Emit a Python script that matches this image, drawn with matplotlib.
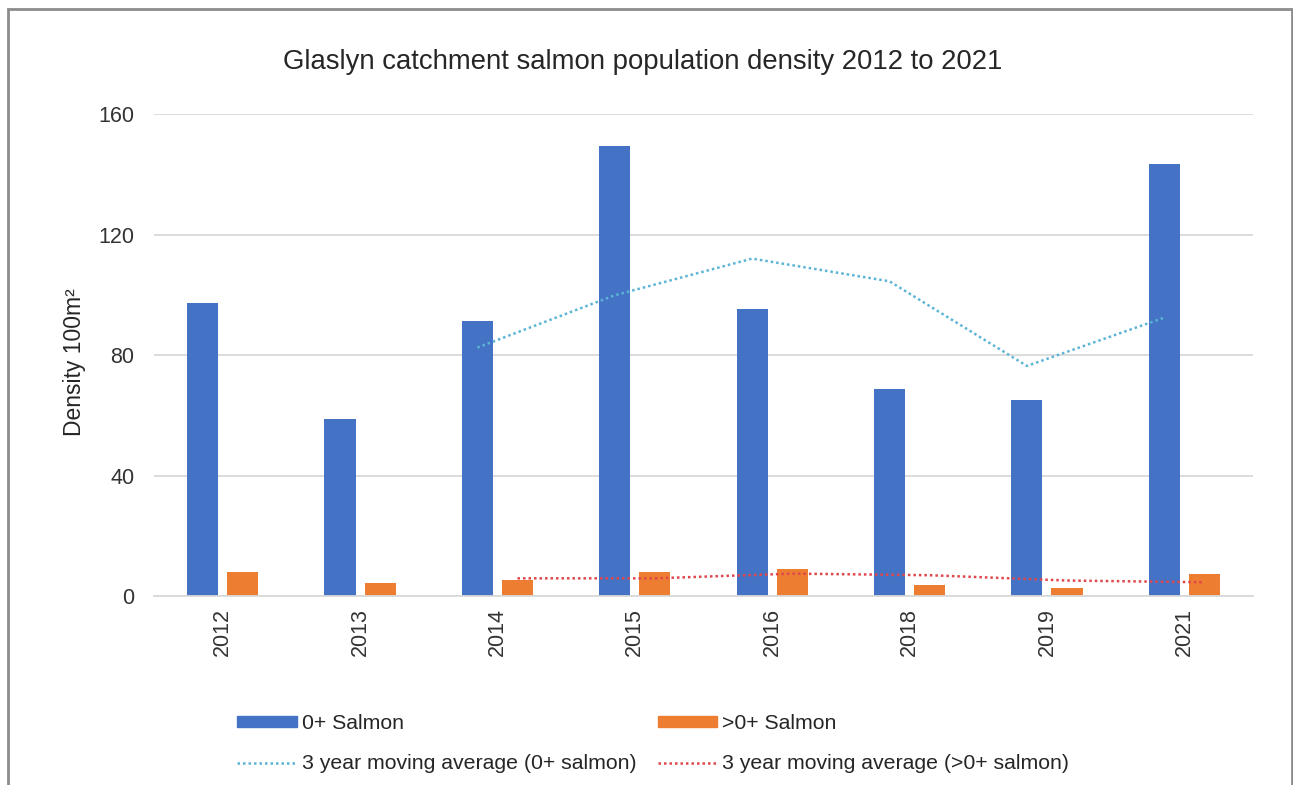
import numpy as np
import pandas as pd
import matplotlib as mpl
mpl.use('agg')
import matplotlib.pyplot as plt
from matplotlib.patches import Patch, Rectangle
from matplotlib.lines import Line2D

plt.rcParams['font.family'] = ['Liberation Sans', 'DejaVu Sans']

## data
years = ['2012', '2013', '2014', '2015', '2016', '2018', '2019', '2021']
salmon_0 = [97.3, 58.8, 91.3, 149.4, 95.3, 68.7, 65.1, 143.4]
salmon_gt0 = [8.0, 4.3, 5.3, 8.0, 9.0, 3.7, 2.7, 7.3]

blue = '#4472C4'
orange = '#ED7D31'
ma_blue = '#5BB4D6'
ma_red = '#E0474C'
grid_col = '#D9D9D9'
text_col = '#262626'

# 3 year moving average trendlines (as Excel draws them)
ma_0 = pd.Series(salmon_0).rolling(3).mean()
ma_gt0 = pd.Series(salmon_gt0).rolling(3).mean()

fig = plt.figure(figsize=(12.93, 7.85), dpi=100)
ax = fig.add_axes([154 / 1293, 1 - 596 / 785, 1099 / 1293, 482 / 785])

x = np.arange(len(years))
off = 0.146
w = 0.226
dots = (0, (1, 1.2))
ax.bar(x - off, salmon_0, width=w, color=blue, zorder=2)
ax.bar(x + off, salmon_gt0, width=w, color=orange, zorder=2)
ax.plot(x - off, ma_0, color=ma_blue, lw=1.8, linestyle=dots, zorder=3)
ax.plot(x + off, ma_gt0, color=ma_red, lw=1.8, linestyle=dots, zorder=3)

ax.set_xlim(-0.5, len(years) - 0.5)
ax.set_ylim(0, 160)
ax.set_yticks([0, 40, 80, 120, 160])
ax.set_xticks(x)
ax.set_xticklabels(years, rotation=90)
ax.tick_params(axis='both', length=0, labelsize=15.5, colors='#333333')
ax.tick_params(axis='x', pad=9)
ax.tick_params(axis='y', pad=14)
ax.yaxis.grid(True, color=grid_col, lw=1.3, zorder=0)
for s in ['top', 'right', 'left']:
    ax.spines[s].set_visible(False)
ax.spines['bottom'].set_color(grid_col)
ax.spines['bottom'].set_linewidth(1.3)

ax.set_ylabel('Density 100m²', fontsize=16.5, color=text_col)
ax.yaxis.set_label_coords((86 - 154) / 1099, (596 - 362) / 482)

fig.text(643 / 1293, 1 - 62 / 785, 'Glaslyn catchment salmon population density 2012 to 2021',
         ha='center', va='center', fontsize=19.8, color=text_col)

handles = [Patch(color=blue), Patch(color=orange),
           Line2D([], [], color=ma_blue, lw=1.8, linestyle=dots),
           Line2D([], [], color=ma_red, lw=1.8, linestyle=dots)]
labels = ['0+ Salmon', '>0+ Salmon',
          '3 year moving average (0+ salmon)', '3 year moving average (>0+ salmon)']
# order so that bars are on row 1, lines on row 2
order = [0, 2, 1, 3]
fig.legend([handles[i] for i in order], [labels[i] for i in order], ncol=2,
           loc='upper left', bbox_to_anchor=(237 / 1293, 1 - 714 / 785),
           frameon=False, fontsize=15.3, handlelength=2.8, handleheight=0.45,
           handletextpad=0.25, columnspacing=1.0, labelspacing=1.0,
           borderpad=0, borderaxespad=0, labelcolor=text_col)

# outer chart border
fig.patches.append(Rectangle((7.5 / 1293, -0.02), 1284 / 1293, 1.02 - 9 / 785,
                             transform=fig.transFigure, fill=False,
                             edgecolor='#8C8C8C', lw=2))

fig.savefig('out.png', dpi=100)
